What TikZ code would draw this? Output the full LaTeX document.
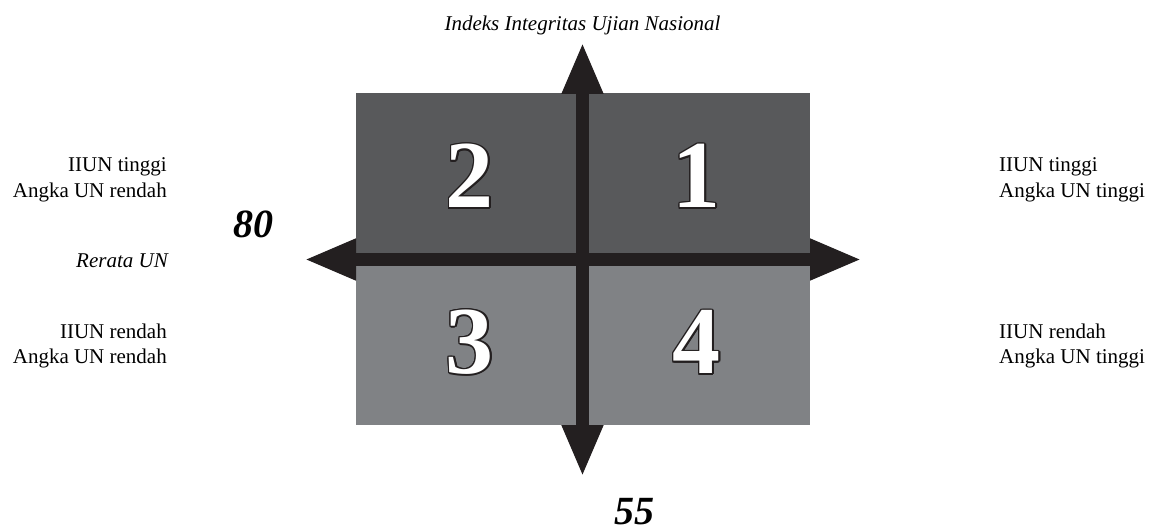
\documentclass[tikz,border=0pt]{standalone}
\usepackage{fontspec}
\setmainfont{Liberation Serif}
\usetikzlibrary{arrows.meta,positioning,calc}
\definecolor{darkquad}{RGB}{88,89,91}
\definecolor{lightquad}{RGB}{128,130,133}
\definecolor{axisblack}{RGB}{35,31,32}

\begin{document}
\begin{tikzpicture}[x=1pt, y=-1pt]
\tikzstyle{quad} = [rectangle, inner sep=0pt, minimum width=227pt, minimum height=166pt, anchor=north west]
\tikzstyle{axis} = [line width=13pt, draw=axisblack, <->, >={Triangle[length=52pt,width=38pt]}]
\tikzstyle{digit} = [inner sep=0pt, font=\fontsize{96}{96}\selectfont\bfseries]
\tikzstyle{note} = [inner sep=0pt, text=black, font=\fontsize{21}{25.5}\selectfont]
\tikzstyle{slantnote} = [note, font=\fontsize{21}{25.5}\selectfont\itshape]
\tikzstyle{cutoff} = [inner sep=0pt, text=black, font=\fontsize{40}{40}\selectfont\bfseries\itshape]

\useasboundingbox (0,0) rectangle (1149,532);

% quadrants
\node (Quad2) [quad, fill=darkquad] at (356,93) {};
\node (Quad1) [quad, fill=darkquad] at (583,93) {};
\node (Quad3) [quad, fill=lightquad] at (356,259) {};
\node (Quad4) [quad, fill=lightquad] at (583,259) {};

% axes
\coordinate (AxisLeft) at (304,259.5);
\coordinate (AxisRight) at (862,259.5);
\coordinate (AxisTop) at (582.5,42);
\coordinate (AxisBottom) at (582.5,477);
\draw [axis] (AxisLeft) -- (AxisRight);
\draw [axis] (AxisBottom) -- (AxisTop);

% outlined quadrant numbers
\foreach \n in {1,2,3,4} {
  \foreach \a in {0,30,...,330}
    \node (Edge\n-\a) [digit, text=axisblack] at ($(Quad\n.center)+(\a:1.5)$) {\n};
  \node (Num\n) [digit, text=white] at (Quad\n.center) {\n};
}

\node (Title) [slantnote, anchor=base] at (582.5,31) {Indeks Integritas Ujian Nasional};
\node (LeftTop) [note, align=right, anchor=north east] at (167,157.7) {IIUN tinggi\\Angka UN rendah};
\node (LeftBottom) [note, align=right, anchor=north east] at (167,323.7) {IIUN rendah\\Angka UN rendah};
\node (RightTop) [note, align=left, anchor=north west] at (999,157.7) {IIUN tinggi\\Angka UN tinggi};
\node (RightBottom) [note, align=left, anchor=north west] at (999,323.7) {IIUN rendah\\Angka UN tinggi};
\node (AxisLabel) [slantnote, anchor=base east] at (168,267) {Rerata UN};
\node (CutX) [cutoff, anchor=base east] at (274,237) {80};
\node (CutY) [cutoff, anchor=base west] at (614,524) {55};
\end{tikzpicture}
\end{document}
